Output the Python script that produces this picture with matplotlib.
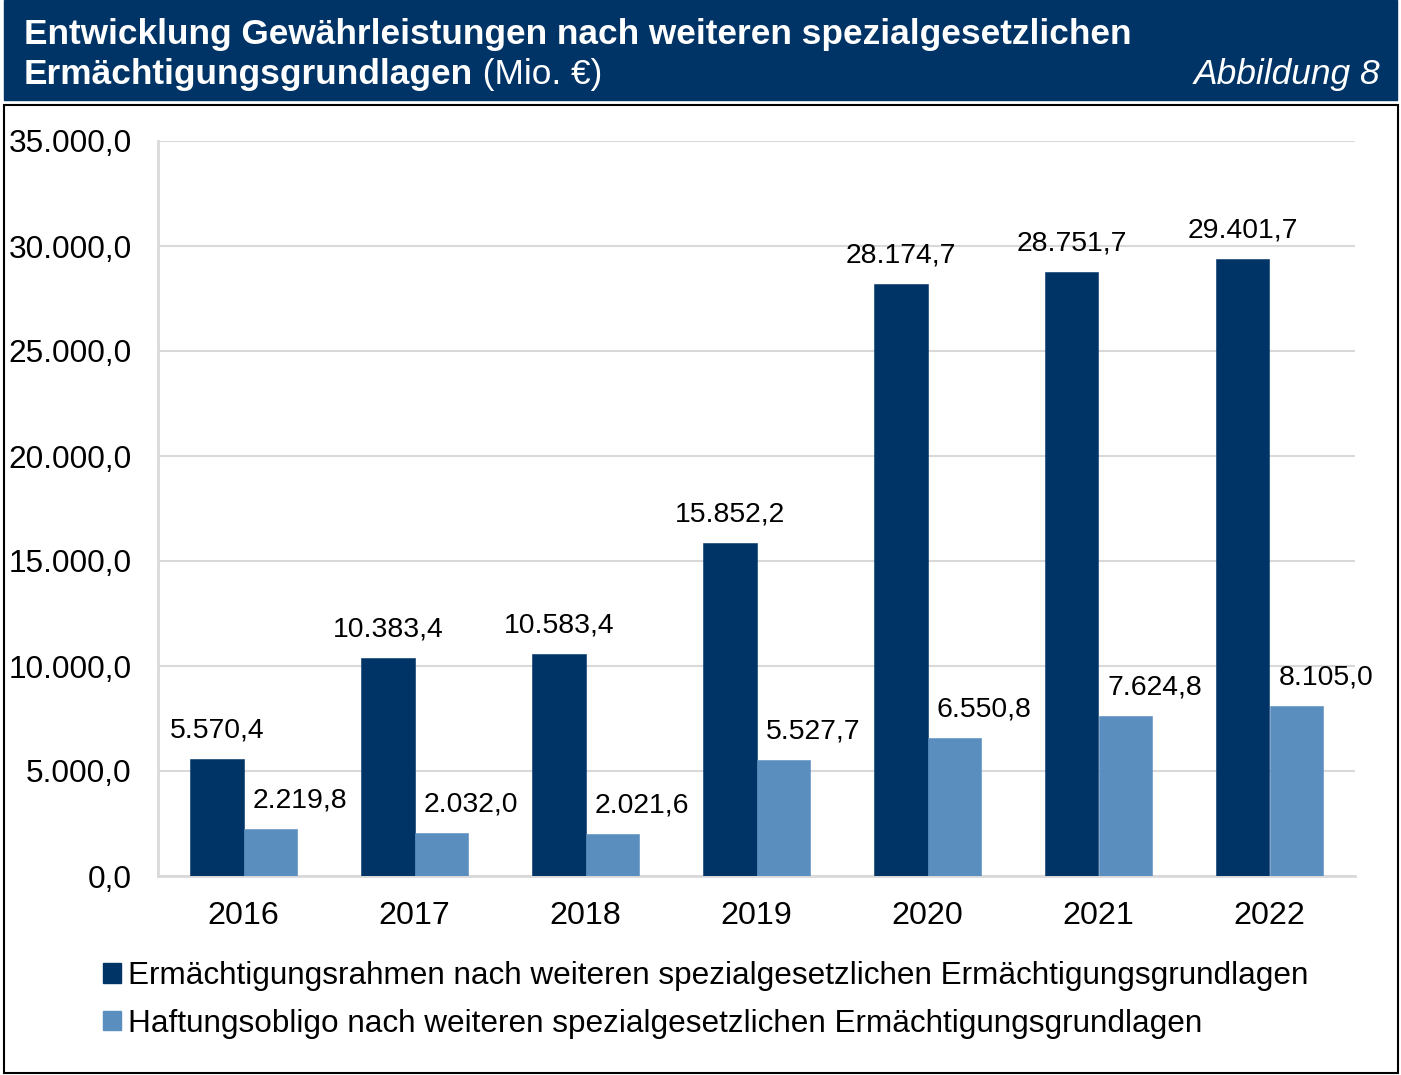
import matplotlib
matplotlib.use("Agg")
import matplotlib.pyplot as plt
import numpy as np
from matplotlib.patches import Rectangle, Patch
from matplotlib.text import Annotation

# ==========================================
# Data
# ==========================================

years = ["2016", "2017", "2018", "2019", "2020", "2021", "2022"]
rahmen = [5570.4, 10383.4, 10583.4, 15852.2, 28174.7, 28751.7, 29401.7]
obligo = [2219.8, 2032.0, 2021.6, 5527.7, 6550.8, 7624.8, 8105.0]

label_rahmen = "Ermächtigungsrahmen nach weiteren spezialgesetzlichen Ermächtigungsgrundlagen"
label_obligo = "Haftungsobligo nach weiteren spezialgesetzlichen Ermächtigungsgrundlagen"

dark = "#003366"
light = "#5A8EBF"
grid_col = "#D9D9D9"

plt.rcParams["font.family"] = ["Liberation Sans", "DejaVu Sans"]


def de_fmt(v):
    s = f"{v:,.1f}"
    return s.replace(",", "X").replace(".", ",").replace("X", ".")


W, H = 1401, 1075
fig = plt.figure(figsize=(W / 100, H / 100), dpi=100)

# ==========================================
# Header band and frame
# ==========================================

fig.patches.append(Rectangle((4 / W, 1 - 100 / H), 1393 / W, 100 / H,
                             transform=fig.transFigure, color=dark, zorder=0))
fig.patches.append(Rectangle((4 / W, 1 - 1073 / H), 1394 / W, 968 / H,
                             transform=fig.transFigure, fill=False,
                             edgecolor="black", linewidth=1.5, zorder=0))

title_fs = 25.4
fig.text(24 / W, 1 - 44 / H,
         "Entwicklung Gewährleistungen nach weiteren spezialgesetzlichen",
         color="white", fontsize=title_fs, fontweight="bold",
         va="baseline", ha="left")
t2 = fig.text(24 / W, 1 - 84 / H, "Ermächtigungsgrundlagen",
              color="white", fontsize=title_fs, fontweight="bold",
              va="baseline", ha="left")
fig.add_artist(Annotation(" (Mio. €)", xy=(1, 0), xycoords=t2,
                          color="white", fontsize=title_fs,
                          va="bottom", ha="left"))
fig.text(1380 / W, 1 - 84 / H, "Abbildung 8", color="white", fontsize=25.5,
         style="italic", va="baseline", ha="right")

# ==========================================
# Bar chart
# ==========================================

ax = fig.add_axes([158 / W, 1 - 876 / H, 1197 / W, 735 / H])

x = np.arange(len(years))
bw = 0.31

ax.bar(x - bw / 2, rahmen, bw, color=dark, edgecolor=dark,
       linewidth=0.4, zorder=3)
ax.bar(x + bw / 2, obligo, bw, color=light, edgecolor=light,
       linewidth=0.4, zorder=3)

for xi, v in zip(x, rahmen):
    ax.annotate(de_fmt(v), xy=(xi - bw / 2, v), xytext=(0, 15.5),
                textcoords="offset points", ha="center", va="baseline",
                fontsize=20.4)
for xi, v in zip(x, obligo):
    ax.annotate(de_fmt(v), xy=(xi + bw / 2, v), xytext=(21.5, 15.5),
                textcoords="offset points", ha="center", va="baseline",
                fontsize=20.4)

ax.set_xlim(-0.5, len(years) - 0.5)
ax.set_ylim(0, 35000)
ax.set_yticks(np.arange(0, 35001, 5000))
ax.set_yticklabels([de_fmt(v) for v in np.arange(0, 35001, 5000)])
ax.set_xticks(x)
ax.set_xticklabels(years)

ax.tick_params(axis="y", length=0, pad=19, labelsize=22.8)
ax.tick_params(axis="x", length=0, pad=18, labelsize=23.2)

ax.yaxis.grid(True, color=grid_col, linewidth=1.5, zorder=0)
ax.set_axisbelow(True)
for side in ["top", "right"]:
    ax.spines[side].set_visible(False)
for side in ["left", "bottom"]:
    ax.spines[side].set_color(grid_col)
    ax.spines[side].set_linewidth(2)

# ==========================================
# Legend
# ==========================================

handles = [Patch(color=dark), Patch(color=light)]
fig.legend(handles, [label_rahmen, label_obligo], loc="upper left",
           bbox_to_anchor=(103 / W, 1 - 961 / H), frameon=False,
           fontsize=22.7, handlelength=0.57, handleheight=0.57,
           handletextpad=0.22, labelspacing=0.56, borderpad=0,
           borderaxespad=0)

fig.savefig("out.png", dpi=100)
